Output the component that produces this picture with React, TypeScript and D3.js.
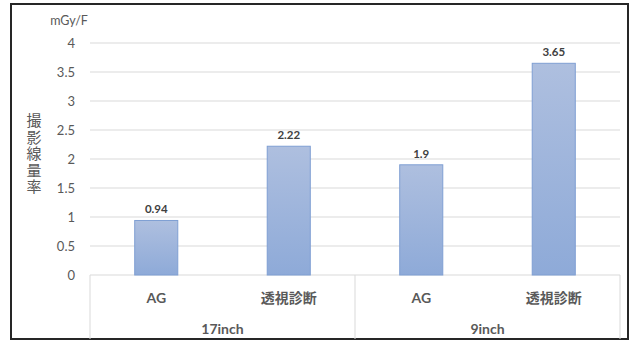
import { useMemo } from "react";
import * as d3 from "d3";

const WIDTH = 631;
const HEIGHT = 342;
const PLOT = { left: 90, right: 620, top: 43, bottom: 275 };

const groups = ["17inch", "9inch"];
const categories = ["AG", "透視診断", "AG", "透視診断"];
const values = [0.94, 2.22, 1.9, 3.65];
const yTicks = [0, 0.5, 1, 1.5, 2, 2.5, 3, 3.5, 4];
const yTitle = ["撮", "影", "線", "量", "率"];
const unitLabel = "mGy/F";

const FONT = "Lato, 'Noto Sans CJK JP', sans-serif";
const TEXT = "#595959";
const GRID = "#d9d9d9";

export default function App() {
  const x = useMemo(
    () =>
      d3
        .scaleBand<number>()
        .domain(categories.map((_, i) => i))
        .range([PLOT.left, PLOT.right])
        .padding(0),
    []
  );
  const y = useMemo(
    () => d3.scaleLinear().domain([0, 4]).range([PLOT.bottom, PLOT.top]),
    []
  );

  const groupX = d3
    .scaleBand<number>()
    .domain(groups.map((_, i) => i))
    .range([PLOT.left, PLOT.right]);

  const barW = x.bandwidth() * 0.325;

  return (
    <div style={{ position: "absolute", left: 0, top: 0 }}>
      <svg width={WIDTH} height={HEIGHT} style={{ display: "block" }} fontFamily={FONT}>
        <defs>
          <linearGradient id="barFill" x1="0" x2="0" y1="0" y2="1">
            <stop offset="0%" stopColor="#aebfdf" />
            <stop offset="100%" stopColor="#8eaad8" />
          </linearGradient>
        </defs>
        <rect x={0} y={0} width={WIDTH} height={HEIGHT} fill="#fff" />
        <rect x={11} y={4} width={617} height={335} fill="#fff" stroke="#262626" strokeWidth={2} />

        {yTicks.map((t) => (
          <g key={t}>
            {t > 0 && (
              <line x1={PLOT.left} x2={PLOT.right} y1={y(t)} y2={y(t)} stroke={GRID} strokeWidth={1} />
            )}
            <text x={75} y={y(t) + 5} textAnchor="end" fontSize={13} fill={TEXT}>
              {t}
            </text>
          </g>
        ))}

        <text x={69} y={25} textAnchor="middle" fontSize={12.5} fill={TEXT}>
          {unitLabel}
        </text>

        {yTitle.map((c, i) => (
          <text key={i} x={34} y={126 + i * 16.5} textAnchor="middle" fontSize={15} fill={TEXT}>
            {c}
          </text>
        ))}

        {/* category box */}
        <line x1={PLOT.left} x2={PLOT.right} y1={y(0)} y2={y(0)} stroke={GRID} />
        {[0, 1, 2].map((i) => {
          const gx = i < 2 ? groupX(i)! : PLOT.right;
          return (
            <line key={i} x1={gx} x2={gx} y1={y(0)} y2={339} stroke={GRID} />
          );
        })}

        {values.map((v, i) => {
          const cx = x(i)! + x.bandwidth() / 2;
          return (
            <g key={i}>
              <rect
                x={cx - barW / 2}
                y={y(v)}
                width={barW}
                height={y(0) - y(v)}
                fill="url(#barFill)"
                stroke="#7f9fd3"
                strokeWidth={1}
              />
              <text x={cx} y={y(v) - 7} textAnchor="middle" fontSize={11.5} fontWeight="bold" fill="#404040">
                {v}
              </text>
              <text x={cx} y={303} textAnchor="middle" fontSize={14} fontWeight="bold" fill={TEXT}>
                {categories[i]}
              </text>
            </g>
          );
        })}

        {groups.map((g, i) => (
          <text
            key={g}
            x={groupX(i)! + groupX.bandwidth() / 2}
            y={334}
            textAnchor="middle"
            fontSize={14}
            fontWeight="bold"
            fill={TEXT}
          >
            {g}
          </text>
        ))}
      </svg>
    </div>
  );
}
